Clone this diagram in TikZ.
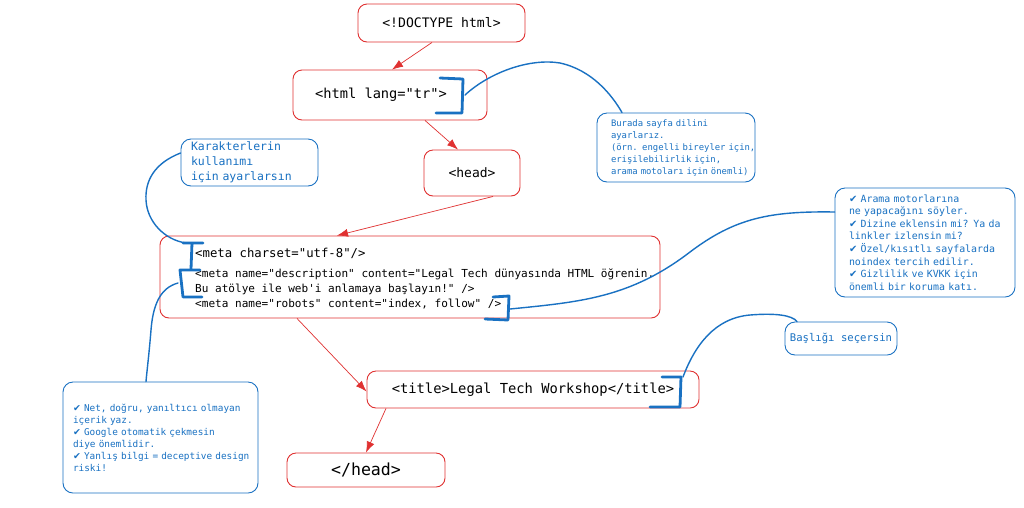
\documentclass[tikz,border=0pt]{standalone}
\usepackage{fontspec}
\setmonofont{DejaVu Sans Mono}
\newfontfamily\symfont{DejaVu Sans}
\usetikzlibrary{arrows.meta}
\definecolor{exred}{HTML}{E03131}
\definecolor{exblue}{HTML}{1971C2}
\newcommand{\chk}{{\symfont ✔}}
\newcommand{\fs}[2]{\fontsize{#1}{#2}\selectfont}
\begin{document}
\begin{tikzpicture}[x=1pt,y=-1pt,
  codebox/.style={draw=exred, line width=0.9pt, rounded corners=9pt, fill=white, text=black},
  notebox/.style={draw=exblue, line width=0.9pt, rounded corners=10pt, fill=white, text=exblue, align=left, inner ysep=1pt},
  redarrow/.style={draw=exred, line width=0.7pt, -{Latex[length=11pt,width=8pt]}},
  bracketline/.style={draw=exblue, line width=2.8pt, line join=round, line cap=round},
  link/.style={draw=exblue, line width=1.4pt, line cap=round}]
\useasboundingbox (0,0) rectangle (1024,507);
\fill[white] (0,0) rectangle (1024,507);

% code boxes
\node[codebox, minimum width=167pt, minimum height=38pt, font=\ttfamily\fs{13.1}{15}] (doctype) at (441.5,23) {<!DOCTYPE html>};
\node[codebox, minimum width=194pt, minimum height=50pt, font=\ttfamily\fs{13.7}{16}] (html) at (390,95) {<html lang="tr">\hspace*{18pt}};
\node[codebox, minimum width=96pt, minimum height=46pt, font=\ttfamily\fs{13}{15}] (head) at (472,173) {<head>};
\node[codebox, minimum width=500pt, minimum height=82pt] (meta) at (410,277) {};
\node[inner sep=0pt, anchor=base west, font=\ttfamily\fs{11.05}{15}] (metatext) at (195,257) {\begin{tabular}[t]{@{}l@{}}{\fs{12.3}{15}<meta charset="utf-8"/>}\\[5pt]
<meta name="description" content="Legal Tech dünyasında HTML öğrenin.\\
Bu atölye ile web'i anlamaya başlayın!" />\\
<meta name="robots" content="index, follow" />\end{tabular}};
\node[codebox, minimum width=332pt, minimum height=37pt, font=\ttfamily\fs{13.8}{16}] (title) at (533,389.5) {<title>Legal Tech Workshop</title>};
\node[codebox, minimum width=158pt, minimum height=34pt, font=\ttfamily\fs{16.6}{18}] (closehead) at (366,470) {</head>};

% notes
\node[notebox, text width=130pt, inner xsep=14pt, minimum height=69pt, font=\ttfamily\fs{8.9}{12}] (burada) at (676,147.5)
 {\mbox{Burada sayfa dilini}\\\mbox{ayarlarız.}\\\mbox{(örn. engelli bireyler için,}\\\mbox{erişilebilirlik için,}\\\mbox{arama motoları için önemli)}};
\node[notebox, text width=117pt, inner xsep=10pt, minimum height=47pt, font=\ttfamily\fs{11.5}{15}] (karakter) at (249.5,162.5)
 {\mbox{Karakterlerin}\\\mbox{kullanımı}\\\mbox{için ayarlarsın}};
\node[notebox, text width=152pt, inner xsep=14pt, minimum height=109pt, font=\ttfamily\fs{9.9}{12.6}] (arama) at (925,242.5)
 {\mbox{\chk{} Arama motorlarına}\\\mbox{ne yapacağını söyler.}\\\mbox{\chk{} Dizine eklensin mi? Ya da}\\\mbox{linkler izlensin mi?}\\\mbox{\chk{} Özel/kısıtlı sayfalarda}\\\mbox{noindex tercih edilir.}\\\mbox{\chk{} Gizlilik ve KVKK için}\\\mbox{önemli bir koruma katı.}};
\node[notebox, text width=175pt, inner xsep=10pt, minimum height=111pt, font=\ttfamily\fs{9.4}{12}] (netnote) at (160.5,437.5)
 {\mbox{\chk{} Net, doğru, yanıltıcı olmayan}\\\mbox{içerik yaz.}\\\mbox{\chk{} Google otomatik çekmesin}\\\mbox{diye önemlidir.}\\\mbox{\chk{} Yanlış bilgi = deceptive design}\\\mbox{riski!}};
\node[notebox, minimum width=112pt, minimum height=33pt, font=\ttfamily\fs{10.6}{12}] (baslik) at (841,338.5) {Başlığı seçersin};

% red arrows
\draw[redarrow] ([xshift=-9.5pt]doctype.south) -- ([xshift=2pt]html.north);
\draw[redarrow] ([xshift=35pt]html.south) -- ([xshift=-14pt]head.north);
\draw[redarrow] ([xshift=21pt]head.south) -- ([xshift=-73pt]meta.north);
\draw[redarrow] ([xshift=-113pt]meta.south) -- ([yshift=-2pt]title.west);
\draw[redarrow] ([xshift=-147pt]title.south) -- (closehead.north);

% blue brackets
\draw[bracketline] (440,78) -- (463,79) -- (462,113) -- (436,113);
\draw[bracketline] (183,243) -- (203,243) (192,243) -- (191,269);
\draw[bracketline] (200,270) -- (180,270) -- (183,297) -- (202,297);
\draw[bracketline] (493,297) -- (509,296) -- (508,320) -- (485,319);
\draw[bracketline] (662,377) -- (681,377) -- (680,407) -- (650,407);

\coordinate (hb) at (465,95);
\coordinate (cb) at (186,243);
\coordinate (db) at (178,283);
\coordinate (rb) at (510,309);
\coordinate (tb) at (683,377);

% blue links
\draw[link] (hb) .. controls (490,72) and (530,58) .. (560,63) .. controls (592,70) and (612,95) .. ([xshift=-54pt]burada.north);
\draw[link] ([yshift=9.5pt]karakter.west) .. controls (155,163) and (145,180) .. (146,200) .. controls (147,222) and (165,240) .. (cb);
\draw[link] (db) .. controls (160,288) and (153,305) .. (151,330) .. controls (149,355) and (147,370) .. ([xshift=-14.5pt]netnote.north);
\draw[link] (rb) .. controls (580,302) and (630,298) .. (690,252) .. controls (735,218) and (770,211) .. ([yshift=30.5pt]arama.west);
\draw[link] (tb) .. controls (695,345) and (715,318) .. (750,315) .. controls (775,313) and (792,315) .. ([xshift=-44pt]baslik.north);
\end{tikzpicture}
\end{document}
